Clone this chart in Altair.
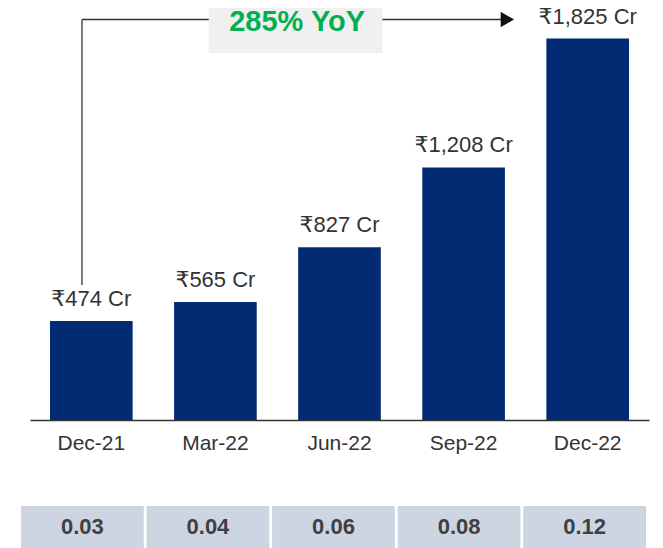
import altair as alt
import pandas as pd

# ---- data ----
periods = ["Dec-21", "Mar-22", "Jun-22", "Sep-22", "Dec-22"]
values = [474, 565, 827, 1208, 1825]
ratios = ["0.03", "0.04", "0.06", "0.08", "0.12"]
yoy_text = "285% YoY"

YMAX = 1971
LEVEL = 1916  # height of the YoY connector line (in value units)

FONT = "Liberation Sans, Arial, Helvetica, DejaVu Sans, sans-serif"

df = pd.DataFrame({
    "period": periods,
    "value": values,
    "label": [f"₹{v:,} Cr" for v in values],
    "ratio": ratios,
})
ann = pd.DataFrame({
    "start": [periods[0]],
    "end": [periods[-1]],
    "boxpos": ["Jun-22"],
    "level": [LEVEL],
    "base": [values[0]],
    "text": [yoy_text],
})

xs = alt.Scale(domain=periods, range=[9, 628], paddingInner=0.334, paddingOuter=0.161)
ys = alt.Scale(domain=[0, YMAX], nice=False, zero=True)

base = alt.Chart(df)
bars = base.mark_bar(color="#032B73").encode(
    x=alt.X("period:N", scale=xs, title=None,
            axis=alt.Axis(labelAngle=0, labelFontSize=21, labelColor="#333333",
                          labelFont=FONT, labelPadding=12, ticks=False,
                          domainColor="#333333", domainWidth=1.5, grid=False)),
    y=alt.Y("value:Q", scale=ys, axis=None),
)
labels = base.mark_text(font=FONT, fontSize=22, color="#333333",
                        baseline="alphabetic", dy=-15).encode(
    x=alt.X("period:N", scale=xs),
    y=alt.Y("value:Q", scale=ys),
    text="label:N",
)

a = alt.Chart(ann)
vline = a.mark_rule(color="#333333", strokeWidth=1.3, y2Offset=-36).encode(
    x=alt.X("start:N", scale=xs, bandPosition=0.387),
    y=alt.Y("level:Q", scale=ys),
    y2="base:Q",
)
hline = a.mark_rule(color="#333333", strokeWidth=1.3, x2Offset=-40).encode(
    x=alt.X("start:N", scale=xs, bandPosition=0.387),
    x2=alt.X2("end:N", bandPosition=0),
    y=alt.Y("level:Q", scale=ys),
)
arrow = a.mark_point(shape="triangle-right", filled=True, size=240, color="#111111",
                     opacity=1, xOffset=-39).encode(
    x=alt.X("end:N", scale=xs, bandPosition=0),
    y=alt.Y("level:Q", scale=ys),
)
box = a.mark_rect(color="#F0F0F0", xOffset=-89.5, x2Offset=42.9, y=-8, y2=45).encode(
    x=alt.X("boxpos:N", scale=xs, bandPosition=0),
    x2=alt.X2("boxpos:N"),
)
yoy = a.mark_text(font=FONT, fontSize=29, fontWeight="bold", color="#00B050",
                  baseline="middle", xOffset=-1, dy=3).encode(
    x=alt.X("boxpos:N", scale=xs, bandPosition=0),
    y=alt.Y("level:Q", scale=ys),
    text="text:N",
)

main = alt.layer(bars, labels, vline, hline, arrow, box, yoy)

ts = alt.Scale(domain=periods, range=[0, 625], paddingInner=0.022, paddingOuter=0)
cells = base.mark_rect(color="#CDD5E3").encode(
    x=alt.X("period:N", scale=ts, axis=None),
    y=alt.value(498), y2=alt.value(540),
)
celltext = base.mark_text(font=FONT, fontWeight="bold", fontSize=22, color="#404040",
                          baseline="middle").encode(
    x=alt.X("period:N", scale=ts, axis=None),
    y=alt.value(519),
    text="ratio:N",
)
table = alt.layer(cells, celltext)

chart = alt.layer(main, table).resolve_scale(x="independent").properties(
    width=628, height=412,
    padding={"left": 13, "top": 0, "right": 6, "bottom": 128},
    autosize=alt.AutoSizeParams(type="none"),
).configure_view(stroke=None)

chart.save("out.html", embed_options={"renderer": "svg", "actions": False})
